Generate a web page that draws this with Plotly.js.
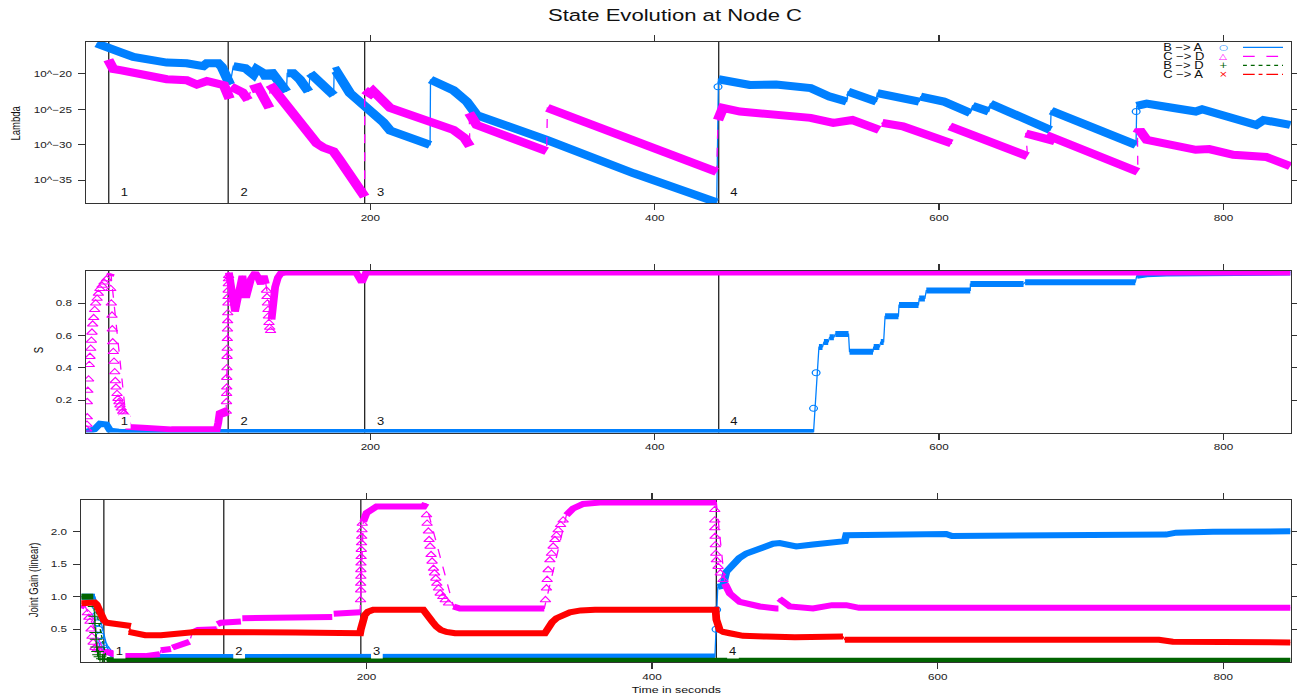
<!DOCTYPE html>
<html>
<head>
<meta charset="utf-8">
<script src="https://cdn.plot.ly/plotly-3.0.1.min.js"></script>
<style>
  html, body { margin:0; padding:0; background:#fff; overflow:hidden; }
  #plot { width:998px; height:696px; transform: scaleX(1.2996); transform-origin: 0 0; }
</style>
</head>
<body>
<div id="plot"></div>
<script>
// ---------------- DATA ----------------
const eventTimes  = [16, 100, 196, 445];
const eventLabels = ['1', '2', '3', '4'];
const seriesNames = ['B \u2212> A', 'C \u2212> D', 'B \u2212> D', 'C \u2212> A'];

// Panel 1: log10(Lambda)
const lamTicks = [-35, -30, -25, -20];
const lamTickText = ['10^\u221235', '10^\u221230', '10^\u221225', '10^\u221220'];

const lamBA_x = [7.5,15.7,25,33.3,45,56.8,70.8,78,82.5,85,93,95.5,101.3,null,
  103.6,112,117.7,120,125,127,130,134,141,null,
  141.5,145.7,150.4,156.5,null,
  157.7,164.8,174.2,null,
  174.5,176,185.6,195.5,209,214,242,null,
  242.3,258.4,267.8,274.8,324,385,443.6,null,
  444.8,466.8,485.4,509.6,523,535,null,
  536,556,null,
  556.5,571,586,null,
  587,603.3,622,null,
  623.5,635,null,
  636,678.3,null,
  678.8,738.5,null,
  739,746,765,780.5,785,790,823,828.3,847];
const lamBA_y = [-15.7,-16.2,-17.0,-17.6,-18.1,-18.4,-18.5,-18.7,-18.9,-18.5,-18.5,-19.0,-21.5,null,
  -18.9,-19.2,-20.1,-19.3,-19.9,-20.6,-19.6,-20.8,-22.5,null,
  -19.9,-19.9,-20.8,-22.5,null,
  -19.9,-21.3,-23.0,null,
  -19.7,-19.6,-22.7,-24.3,-26.8,-28.0,-30.0,null,
  -20.8,-22.3,-23.9,-25.8,-29.3,-34.0,-38.1,null,
  -20.75,-21.55,-21.5,-22.0,-23.2,-23.9,null,
  -22.5,-23.9,null,
  -22.7,-23.2,-23.9,null,
  -23.2,-23.9,-25.5,null,
  -24.5,-25.3,null,
  -24.2,-27.9,null,
  -25.2,-30.0,null,
  -24.5,-24.2,-24.8,-25.3,-25.0,-25.3,-27.2,-26.5,-27.2];
const lamBA_px = [444.5, 738.6];
const lamBA_py = [-21.8, -25.3];

const lamCD_x = [15.7,19.2,25,33.3,45,56.8,70.8,77.9,85,93,97,101,null,
  102,110,114,null,
  116,121,129,null,
  129.5,138.8,150.5,162.3,167,174,178,185.7,191,196,null,
  196,200,202,205,214,258.4,266,270,null,
  269.5,274.8,324,null,
  324.5,385,443.6,null,
  444.5,446,448,460,485.4,509.6,525.6,539,557.9,null,
  560,574.5,608.7,null,
  607.5,662.2,null,
  661,678,679,739.8,null,
  739.5,741,746,760,780.5,790,806.9,830,847];
const lamCD_y = [-18.0,-19.3,-19.5,-19.9,-20.4,-20.75,-20.9,-21.5,-21.0,-21.4,-21.6,-23.5,null,
  -21.8,-22.6,-23.7,null,
  -22.2,-21.9,-24.8,null,
  -21.5,-23.9,-26.7,-29.8,-30.4,-30.9,-32.0,-34.5,-36.2,-37.3,null,
  -22.3,-22.8,-22.4,-23.0,-24.8,-27.9,-29.0,-30.2,null,
  -25.5,-27.2,-30.9,null,
  -24.8,-29.3,-33.8,null,
  -26.5,-26.0,-24.8,-25.3,-25.8,-26.2,-26.9,-26.5,-27.9,null,
  -26.9,-27.4,-29.8,null,
  -27.4,-31.6,null,
  -28.4,-29.3,-28.9,-33.8,null,
  -28.4,-27.9,-29.3,-29.8,-30.7,-30.6,-31.4,-31.7,-33.0];

// Panel 2: S
const sTicks = [0.2, 0.4, 0.6, 0.8];
const sBA_x = [0,6,9.8,14.3,17,25,511.7,null,515.5,518,null,519,522,null,523,526,null,527,536.3,null,
  537,553.5,null,554,558,null,559,561,null,562,571.4,null,571.8,585.5,null,586,590,null,
  591,621.9,null,622,659.4,null,660.5,738,null,739,742,746,760,847];
const sBA_y = [0.004,0.02,0.055,0.05,0.012,0.004,0.004,null,0.53,0.53,null,0.56,0.56,null,0.59,0.59,null,0.61,0.61,null,
  0.5,0.5,null,0.53,0.53,null,0.56,0.56,null,0.72,0.72,null,0.79,0.79,null,0.83,0.83,null,
  0.88,0.88,null,0.92,0.92,null,0.93,0.93,null,0.97,0.975,0.98,0.985,0.99];
const sBA_px = [511.7, 513.5];
const sBA_py = [0.15, 0.37];

const sCD_x = [16.9,17.5,null,28.5,30,40,50,60,80,92,93,94,96.6,98.5,null,
  100.5,102,104.8,106,108,110,112,113,116,119,121,123,125,126.5,null,
  130.5,131.5,133,135,137,140,190,194,195.5,197,200,847];
const sCD_y = [0.97,0.985,null,0.06,0.035,0.03,0.025,0.02,0.02,0.02,0.06,0.12,0.13,0.1,null,
  0.99,0.9,0.75,0.8,0.9,0.97,0.85,0.85,0.95,0.99,0.96,0.92,0.97,0.92,null,
  0.7,0.8,0.9,0.96,0.985,0.99,0.99,0.93,0.96,0.99,0.99,0.99];
const sCD_px = [0.5,0.7,0.9,0.9,1.3,1.8,2.3,2.8,3.3,3.8,4.2,4.7,5.4,6.1,6.8,7.8,8.7,9.8,11.3,12.7,14.5,
  17.4,17.8,18.3,18.5,18.8,19.2,19.7,20.2,20.6,21.1,21.8,22.5,23.2,23.9,24.8,25.8,26.7,27.6,
  98.7,98.8,98.9,99,99,99.1,99.2,99.3,99.4,99.5,99.6,99.7,99.8,99.9,100,100.1,100.2,100.3,
  127,127.3,127.6,128,128.3,128.7,129.2,129.8];
const sCD_py = [0.02,0.05,0.096,0.19,0.26,0.33,0.42,0.47,0.52,0.57,0.62,0.67,0.71,0.76,0.8,0.83,0.86,0.89,0.91,0.93,0.95,
  0.89,0.80,0.725,0.64,0.56,0.50,0.44,0.375,0.32,0.28,0.24,0.21,0.19,0.17,0.15,0.13,0.12,0.11,
  0.13,0.19,0.24,0.28,0.34,0.40,0.47,0.52,0.58,0.64,0.69,0.74,0.8,0.84,0.88,0.92,0.95,0.97,
  0.88,0.84,0.8,0.76,0.72,0.68,0.65,0.63];

// Panel 3: Joint gain (linear)
const gTicks = [0.5, 1.0, 1.5, 2.0];
const gBA_x = [0.5,9.8,null,19,22.6,28,40,100,200,300,444,null,
  446,449.7,452,456.7,461,466,475.4,484.7,489.4,501,512.7,533.7,535,536,606,610,755.4,760,767,792.8,847];
const gBA_y = [1.0,1.0,null,0.16,0.11,0.09,0.08,0.075,0.08,0.085,0.085,null,
  1.15,1.17,1.38,1.51,1.59,1.66,1.74,1.81,1.82,1.77,1.8,1.83,1.85,1.94,1.96,1.93,1.93,1.95,1.98,1.995,2.0];
const gBA_px = [10.5,11,11.5,12.3,13.3,14.5,15.6,17,18,444.8,445.2];
const gBA_py = [0.85,0.72,0.6,0.5,0.4,0.32,0.26,0.21,0.18,0.5,0.8];

const gCD_x = [0.3,3,null,16,21,25,30,45,52,55,null,56,63,null,64,76,null,78,82,95,null,95.5,98,112,null,
  113,176,null,177,195.5,null,197.7,200,207,240,241.5,null,260.9,265.4,324.5,null,
  340,344.7,351.7,363.4,445,null,451,454.4,461.4,475.4,487,488.5,null,
  489,496.4,512.7,519,526,536,545,847];
const gCD_y = [0.87,0.85,null,0.16,0.14,0.1,0.09,0.09,0.1,0.12,null,0.18,0.2,null,0.22,0.31,null,0.45,0.49,0.5,null,0.58,0.6,0.62,null,
  0.67,0.69,null,0.74,0.76,null,2.15,2.28,2.38,2.38,2.43,null,0.85,0.82,0.82,null,
  2.25,2.35,2.42,2.44,2.44,null,1.2,1.05,0.92,0.85,0.82,0.82,null,
  0.97,0.85,0.82,0.85,0.87,0.87,0.83,0.83];
const gCD_px = [4.5,5.5,6.3,7,7.7,8.5,9.8,11.5,13.3,
  195.8,195.9,195.9,196,196,196.1,196.2,196.3,196.5,196.6,196.8,197.0,
  242,242.4,243.3,243.8,244.5,245.2,245.9,246.9,247.6,248.5,249.2,250.4,251.6,253.4,255.1,257.4,
  325.3,326,326.5,327.2,328.4,329.5,330.7,331.9,333,334.2,335.9,337.7,
  443.9,443.9,443.9,444.1,444.3,444.6,445,446.2,447.8,449.7];
const gCD_py = [0.75,0.68,0.62,0.5,0.39,0.3,0.22,0.2,0.18,
  0.95,1.1,1.2,1.31,1.41,1.51,1.61,1.72,1.82,1.92,2.02,2.12,
  2.25,2.12,2.0,1.87,1.77,1.64,1.54,1.43,1.36,1.28,1.2,1.13,1.05,1.0,0.95,0.9,
  0.95,1.13,1.26,1.41,1.56,1.66,1.77,1.87,1.94,2.02,2.1,2.17,
  2.33,2.17,2.05,1.92,1.79,1.66,1.56,1.46,1.36,1.26];

const gBD_x = [0.3,8.6,null,18,30,847];
const gBD_y = [1.0,1.0,null,0.03,0.02,0.02];
const gBD_px = [9.2,9.6,9.8,10.3,10.6,11,11.6,12.3,13.3,15,16.5];
const gBD_py = [0.85,0.7,0.59,0.45,0.35,0.23,0.16,0.11,0.08,0.05,0.04];

const gCA_x = [0.3,9.6,11,13,14.2,16,18,22.6,28,35,null,
  33.5,40,45,56,65,80,150,195.5,196,197,198.8,201,204.7,239.7,243.2,246,249,252,256,262,
  324.9,327.2,330,333,337,342.4,350,360,444.5,445,447.4,450,454.4,463.7,480,500,533.7,null,
  535,755,764.7,847];
const gCA_y = [0.9,0.91,0.88,0.75,0.69,0.64,0.6,0.58,0.56,0.55,null,
  0.46,0.44,0.41,0.41,0.43,0.46,0.45,0.44,0.5,0.6,0.72,0.77,0.8,0.8,0.72,0.62,0.54,0.49,0.46,0.44,
  0.44,0.54,0.61,0.67,0.72,0.76,0.79,0.8,0.8,0.65,0.49,0.46,0.44,0.4,0.39,0.38,0.39,null,
  0.34,0.34,0.31,0.3];

// ---------------- STYLE ----------------
const BLUE = 'rgb(0,128,255)', PINK = 'rgb(255,0,255)', GREEN = 'rgb(0,100,0)', RED = 'rgb(255,0,0)';
const FONT = 'Liberation Sans, Arial, Helvetica, sans-serif';
const HS = 1297 / 998; // horizontal stretch applied by CSS

function seriesTraces(xa, ya, bx, by, px, py, color, dash, symbol, bandW, msize) {
  const out = [];
  out.push({type:'scatter', mode:'lines', x:bx, y:by, xaxis:xa, yaxis:ya, connectgaps:true,
            line:{color:color, width:1, dash:dash}, hoverinfo:'skip'});
  out.push({type:'scatter', mode:'lines', x:bx, y:by, xaxis:xa, yaxis:ya, connectgaps:false,
            line:{color:color, width:bandW}, hoverinfo:'skip'});
  if (px) out.push({type:'scatter', mode:'markers', x:px, y:py, xaxis:xa, yaxis:ya, cliponaxis:true,
            marker:{symbol:symbol, size:msize, color:color, line:{color:color, width:1}}, hoverinfo:'skip'});
  return out;
}

let traces = [];
traces = traces.concat(seriesTraces('x','y', lamBA_x, lamBA_y, lamBA_px, lamBA_py, BLUE, 'solid', 'circle-open', 8, 6));
traces = traces.concat(seriesTraces('x','y', lamCD_x, lamCD_y, null, null, PINK, 'dash', 'triangle-up-open', 8, 7));
traces = traces.concat(seriesTraces('x2','y2', sBA_x, sBA_y, sBA_px, sBA_py, BLUE, 'solid', 'circle-open', 6, 6));
traces = traces.concat(seriesTraces('x2','y2', sCD_x, sCD_y, sCD_px, sCD_py, PINK, 'dash', 'triangle-up-open', 6, 7));
traces = traces.concat(seriesTraces('x3','y3', gBA_x, gBA_y, gBA_px, gBA_py, BLUE, 'solid', 'circle-open', 6, 6));
traces = traces.concat(seriesTraces('x3','y3', gCD_x, gCD_y, gCD_px, gCD_py, PINK, 'dash', 'triangle-up-open', 6, 7));
traces = traces.concat(seriesTraces('x3','y3', gBD_x, gBD_y, gBD_px, gBD_py, GREEN, 'dot', 'cross-thin-open', 6, 7));
traces = traces.concat(seriesTraces('x3','y3', gCA_x, gCA_y, null, null, RED, 'dashdot', 'x-thin-open', 6, 7));

const H = 696;
const xDomA = [86/1297, 1291/1297];
const xDomB = [81/1297, 1291/1297];
const xRange = [0, 847.5];

function xAxis(domain, anchor) {
  return {domain:domain, anchor:anchor, range:xRange, tickvals:[200,400,600,800],
    ticks:'outside', ticklen:6, tickcolor:'#333', showline:true, linecolor:'#333', linewidth:1,
    mirror:'ticks', showgrid:false, zeroline:false, automargin:false,
    tickfont:{family:FONT, size:9, color:'#222'}};
}
function yAxis(domain, anchor, range, tv, tt) {
  const a = {domain:domain, anchor:anchor, range:range, tickvals:tv,
    ticks:'outside', ticklen:5, tickcolor:'#333', showline:true, linecolor:'#333', linewidth:1,
    mirror:'ticks', showgrid:false, zeroline:false, automargin:false, ticklabelstandoff:3,
    tickfont:{family:FONT, size:9, color:'#222'}};
  if (tt) a.ticktext = tt;
  return a;
}

const layout = {
  width:998, height:H,
  margin:{l:0, r:0, t:0, b:0, pad:0},
  paper_bgcolor:'#fff', plot_bgcolor:'#fff',
  showlegend:false,
  font:{family:FONT, color:'#111'},
  title:{text:'State Evolution at Node C', font:{family:FONT, size:17, color:'#111'},
         x:675/1297, xanchor:'center', y:1-15/H, yanchor:'middle', xref:'container', yref:'container'},
  xaxis: xAxis(xDomA, 'y'),
  yaxis: yAxis([1-203/H, 1-42/H], 'x', [-38.2, -15.5], lamTicks, lamTickText),
  xaxis2: xAxis(xDomA, 'y2'),
  yaxis2: yAxis([1-432.6/H, 1-271/H], 'x2', [0, 1.0], sTicks, null),
  xaxis3: xAxis(xDomB, 'y3'),
  yaxis3: yAxis([1-662/H, 1-500/H], 'x3', [0, 2.48], gTicks, ['0.5','1.0','1.5','2.0']),
  shapes: [],
  annotations: []
};

// event lines and labels
['', '2', '3'].forEach(function(sfx) {
  eventTimes.forEach(function(t, i) {
    layout.shapes.push({type:'line', layer:'below', xref:'x'+sfx, yref:'y'+sfx+' domain',
      x0:t, x1:t, y0:0, y1:1, line:{color:'#222', width:1}});
    layout.annotations.push({xref:'x'+sfx, yref:'y'+sfx+' domain', x:t, y:0, xshift:16/HS, yshift:11,
      text:eventLabels[i], showarrow:false, xanchor:'center', yanchor:'middle',
      font:{family:FONT, size:10, color:'#111'}, bgcolor:'#fff', borderpad:1});
  });
});

// axis titles
layout.annotations.push({xref:'paper', yref:'paper', x:15/1297, y:1-123/H, text:'Lambda', textangle:-90,
  showarrow:false, xanchor:'center', yanchor:'middle', font:{family:FONT, size:9.5, color:'#111'}});
layout.annotations.push({xref:'paper', yref:'paper', x:38/1297, y:1-350/H, text:'S', textangle:-90,
  showarrow:false, xanchor:'center', yanchor:'middle', font:{family:FONT, size:9.5, color:'#111'}});
layout.annotations.push({xref:'paper', yref:'paper', x:33/1297, y:1-580/H, text:'Joint Gain (linear)', textangle:-90,
  showarrow:false, xanchor:'center', yanchor:'middle', font:{family:FONT, size:9.5, color:'#111'}});
layout.annotations.push({xref:'paper', yref:'paper', x:676/1297, y:1-689/H, text:'Time in seconds',
  showarrow:false, xanchor:'center', yanchor:'middle', font:{family:FONT, size:9.5, color:'#111'}});

// legend (top right of panel 1)
const legRows = [47.3, 56.3, 65.3, 74.3];
const legSym = ['\u25CB', '\u25B3', '+', '\u00D7'];
const legColor = [BLUE, PINK, GREEN, RED];
const legDash = ['solid', 'dash', 'dot', 'dashdot'];
seriesNames.forEach(function(name, i) {
  const yp = 1 - legRows[i]/H;
  layout.annotations.push({xref:'paper', yref:'paper', x:1161/1297, y:yp, text:name, showarrow:false,
    xanchor:'left', yanchor:'middle', font:{family:FONT, size:10, color:'#111'}});
  layout.annotations.push({xref:'paper', yref:'paper', x:1224/1297, y:yp, text:legSym[i], showarrow:false,
    xanchor:'center', yanchor:'middle', font:{family:'DejaVu Sans, sans-serif', size:8, color:legColor[i]}});
  layout.shapes.push({type:'line', xref:'paper', yref:'paper', x0:1243/1297, x1:1283/1297, y0:yp, y1:yp,
    line:{color:legColor[i], width:1.2, dash:legDash[i]}});
});

Plotly.newPlot('plot', traces, layout, {staticPlot:true, displayModeBar:false});
</script>
</body>
</html>
